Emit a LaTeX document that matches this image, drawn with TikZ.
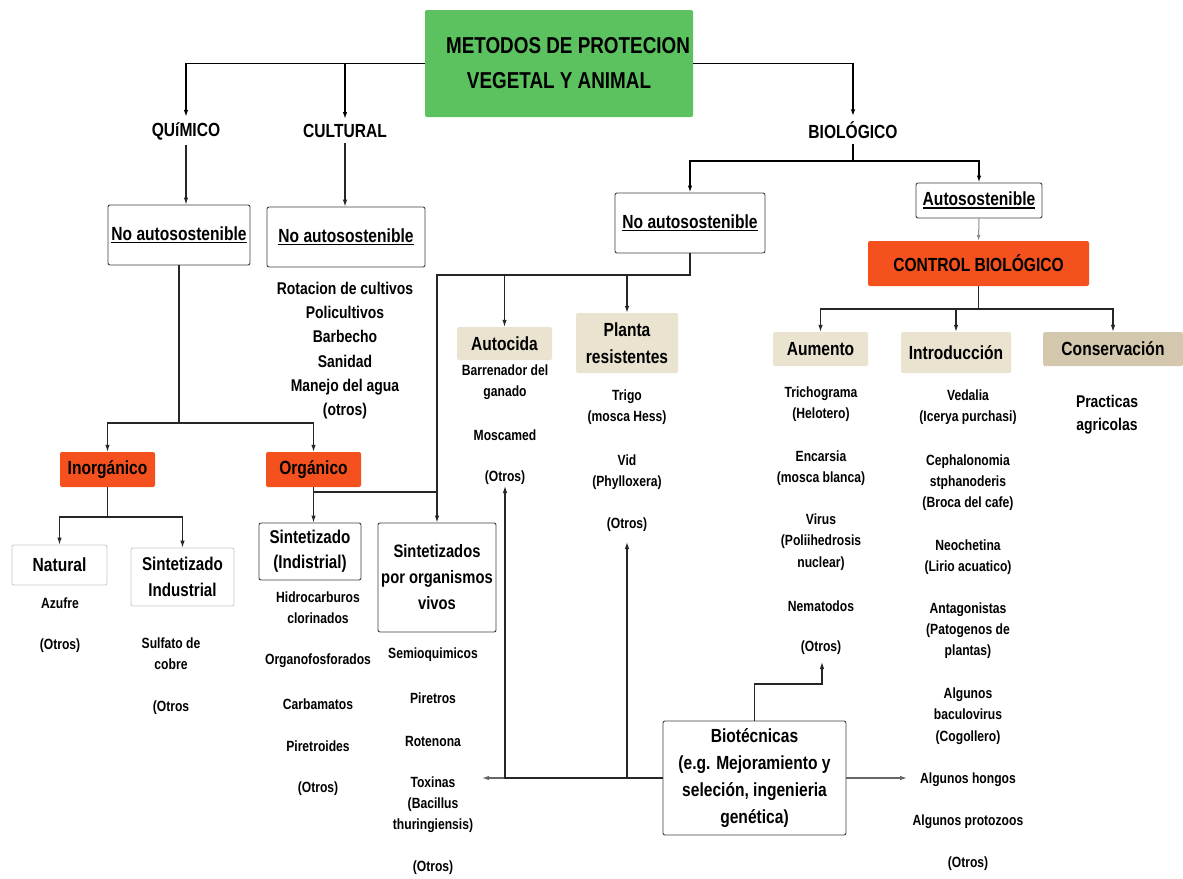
\documentclass[tikz,border=0pt]{standalone}
\usepackage{fontspec}
\setmainfont{Liberation Sans}[FakeStretch=0.82]
\usetikzlibrary{arrows.meta}
\definecolor{tgreen}{HTML}{5CC260}
\definecolor{cred}{HTML}{F4511E}
\definecolor{cbeige}{HTML}{E9E3D0}
\definecolor{cdbeige}{HTML}{D3C8AD}
\newcommand\myul[1]{\sbox0{#1}\rlap{\rule[-3.2pt]{\wd0}{1.6pt}}\usebox0}
\begin{document}
\begin{tikzpicture}[x=1pt,y=-1pt,
  every node/.style={inner sep=0pt, align=center, text=black},
  sm/.style={font=\bfseries\fontsize{14.8}{21.3}\selectfont},
  md/.style={font=\bfseries\fontsize{17}{24.2}\selectfont},
  hd/.style={font=\bfseries\fontsize{19}{26.5}\selectfont},
  ttl/.style={font=\bfseries\fontsize{23}{35}\selectfont},
  wbox/.style={draw=black!75, fill=white, rounded corners=2pt, line width=0.9pt},
  lbox/.style={draw=black!22, fill=white, rounded corners=2pt, line width=0.8pt},
  rbox/.style={fill=cred, rounded corners=2pt},
  bbox/.style={fill=cbeige, rounded corners=1.5pt},
  thk/.style={line width=1.8pt, black},
  ln/.style={line width=1.1pt, black!85},
  lg/.style={line width=1.1pt, black!60},
  tip/.style={-{Latex[length=7pt,width=4.5pt]}},
]
\useasboundingbox (0,0) rectangle (1183,878);
\fill[white] (0,0) rectangle (1183,878);

% title and main branches
\node[ttl, fill=tgreen, minimum width=268pt, minimum height=107pt, rounded corners=2pt] (title) at (559,63.5) {\hspace*{18pt}METODOS DE PROTECION\\VEGETAL Y ANIMAL};
\node[hd, inner ysep=5pt] (qui) at (186,131) {QUíMICO};
\node[hd, inner ysep=5pt] (cul) at (345,131) {CULTURAL};
\node[hd, inner ysep=5pt] (bio) at (853,130) {BIOLÓGICO};

% chemical / cultural
\node[wbox, hd, minimum width=142pt, minimum height=60pt] (nb1) at (179,235) {\myul{No autosostenible}};
\node[wbox, hd, minimum width=158pt, minimum height=60pt] (nb2) at (346,237) {\myul{No autosostenible}};
\node[md] (cullist) at (345,350.5) {Rotacion de cultivos\\Policultivos\\Barbecho\\Sanidad\\Manejo del agua\\(otros)};

\node[rbox, hd, minimum width=95pt, minimum height=35pt] (inorg) at (107.5,469.5) {Inorgánico};
\node[rbox, hd, minimum width=95pt, minimum height=35pt] (org) at (313.5,469.5) {Orgánico};

\node[lbox, hd, minimum width=95pt, minimum height=40pt] (nat) at (59.5,565) {Natural};
\node[lbox, hd, minimum width=103pt, minimum height=58pt, font=\bfseries\fontsize{18.5}{26}\selectfont] (sind) at (182.5,577) {Sintetizado\\Industrial};
\node[sm] (azufre) at (60,603) {Azufre};
\node[sm] (natotros) at (60,646) {(Otros)};
\node[sm] (sulfato) at (171,654) {Sulfato de\\cobre};
\node[sm] (sindotros) at (171,708) {(Otros};

\node[wbox, minimum width=102pt, minimum height=57pt, font=\bfseries\fontsize{18.5}{25}\selectfont] (sindis) at (310,551.5) {Sintetizado\\(Indistrial)};
\node[sm] (hidro) at (318,607.5) {Hidrocarburos\\clorinados};
\node[sm] (organo) at (318,661) {Organofosforados};
\node[sm] (carba) at (318,704) {Carbamatos};
\node[sm] (pireto) at (318,746) {Piretroides};
\node[sm] (sindisotros) at (318,789) {(Otros)};

\node[wbox, minimum width=118pt, minimum height=109pt, font=\bfseries\fontsize{18}{26}\selectfont] (vivos) at (437,577.5) {Sintetizados\\por organismos\\vivos};
\node[sm] (semio) at (433,655) {Semioquimicos};
\node[sm] (piretros) at (433,698) {Piretros};
\node[sm] (roten) at (433,741) {Rotenona};
\node[sm] (toxinas) at (433,804.5) {Toxinas\\(Bacillus\\thuringiensis)};
\node[sm] (vivosotros) at (433,868) {(Otros)};

% biological
\node[wbox, hd, minimum width=150pt, minimum height=60pt] (nbb) at (690,223) {\myul{No autosostenible}};
\node[wbox, hd, minimum width=126pt, minimum height=35pt] (auto) at (979,200.5) {\myul{Autosostenible}};
\node[rbox, hd, minimum width=221pt, minimum height=45pt] (cb) at (978.5,263.5) {CONTROL BIOLÓGICO};

\node[bbox, hd, minimum width=95pt, minimum height=33pt] (autoc) at (504.5,343.5) {Autocida};
\node[sm] (barren) at (505,382.5) {Barrenador del\\ganado};
\node[sm] (mosca) at (505,435) {Moscamed};
\node[sm] (autocotros) at (505,478) {(Otros)};

\node[bbox, hd, minimum width=102pt, minimum height=60pt, font=\bfseries\fontsize{19}{27}\selectfont] (planta) at (627,343) {Planta\\resistentes};
\node[sm] (trigo) at (627,407.5) {Trigo\\(mosca Hess)};
\node[sm] (vid) at (627,472) {Vid\\(Phylloxera)};
\node[sm] (plantaotros) at (627,525) {(Otros)};

\node[bbox, hd, minimum width=95pt, minimum height=34pt] (aum) at (820.5,349) {Aumento};
\node[bbox, hd, minimum width=110pt, minimum height=41pt] (intro) at (956,352.5) {Introducción};
\node[hd, fill=cdbeige, rounded corners=1.5pt, minimum width=140pt, minimum height=34pt] (cons) at (1113,349) {Conservación};

\node[sm] (tricho) at (821,404) {Trichograma\\(Helotero)};
\node[sm] (encar) at (821,468) {Encarsia\\(mosca blanca)};
\node[sm] (virus) at (821,542) {Virus\\(Poliihedrosis\\nuclear)};
\node[sm] (nemat) at (821,606) {Nematodos};
\node[sm] (aumotros) at (821,648) {(Otros)};

\node[sm] (vedal) at (968,407) {Vedalia\\(Icerya purchasi)};
\node[sm] (cepha) at (968,482.5) {Cephalonomia\\stphanoderis\\(Broca del cafe)};
\node[sm] (neoch) at (968,557) {Neochetina\\(Lirio acuatico)};
\node[sm] (antag) at (968,630.5) {Antagonistas\\(Patogenos de\\plantas)};
\node[sm] (baculo) at (968,716) {Algunos\\baculovirus\\(Cogollero)};
\node[sm] (hongos) at (968,780) {Algunos hongos};
\node[sm] (protoz) at (968,822) {Algunos protozoos};
\node[sm] (introotros) at (968,864) {(Otros)};

\node[font=\bfseries\fontsize{17}{23}\selectfont] (practicas) at (1107,415) {Practicas\\agricolas};

\node[wbox, minimum width=183pt, minimum height=114pt, font=\bfseries\fontsize{19}{27}\selectfont] (biot) at (754.5,778) {Biotécnicas\\(e.g. Mejoramiento y\\seleción, ingenieria\\genética)};

% connectors: top
\draw[thk,tip] (title.west) -| (qui.north);
\draw[thk,tip] (cul.north |- title.west) -- (cul.north);
\draw[thk,tip] (title.east) -| (bio.north);

\draw[ln,tip] (qui.south) -- (qui.south |- nb1.north);
\draw[ln,tip] (cul.south) -- (cul.south |- nb2.north);

\coordinate (j1) at (179,423);
\draw[ln] (nb1.south) -- (j1);
\draw[ln,tip] (j1) -| (inorg.north);
\draw[ln,tip] (j1) -| (org.north);

\coordinate (j2) at (107.5,517);
\draw[ln] (inorg.south) -- (j2);
\draw[ln,tip] (j2) -| (nat.north);
\draw[ln,tip] (j2) -| (sind.north);

\draw[ln,tip] (org.south) -- (org.south |- sindis.north);
\coordinate (j3) at (437,492);
\draw[ln] (org.south) |- (j3);

\coordinate (j6) at (437,275);
\draw[ln,tip] (nbb.south) |- (j6) -- (vivos.north);
\draw[ln,tip] (autoc.north |- j6) -- (autoc.north);
\draw[ln,tip] (planta.north |- j6) -- (planta.north);

% biological branches
\coordinate (j4) at (853,161);
\draw[thk] (bio.south) -- (j4);
\draw[thk,tip] (j4) -| (nbb.north);
\draw[thk,tip] (j4) -| (auto.north);
\draw[black!45, line width=1pt, -{Latex[length=6pt,width=4pt]}] (auto.south) -- (cb.north);

\coordinate (j7) at (978.5,309);
\draw[ln] (cb.south) -- (j7);
\draw[ln,tip] (j7) -| (aum.north);
\draw[ln,tip] (j7) -| (intro.north);
\draw[ln,tip] (j7) -| (cons.north);

% biotecnicas
\coordinate (e1) at (482,778);
\coordinate (e2) at (505,486);
\coordinate (e3) at (627,542);
\coordinate (e4) at (907,778);
\coordinate (j8) at (754.5,684);
\coordinate (e5) at (822,662);
\draw[lg,tip] (biot.west) -- (e1);
\draw[ln,tip] (biot.west) -| (e2);
\draw[ln,tip] (biot.west) -| (e3);
\draw[lg,tip] (biot.east) -- (e4);
\draw[ln,tip] (biot.north) -- (j8) -| (e5);
\end{tikzpicture}
\end{document}
